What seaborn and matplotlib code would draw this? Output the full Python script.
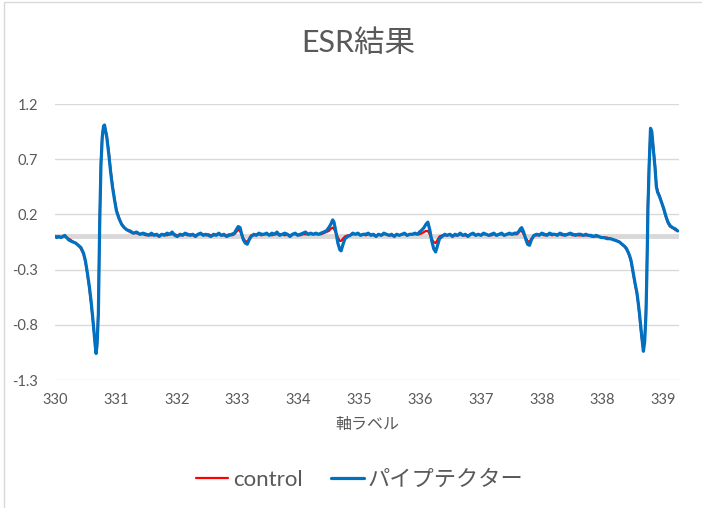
import numpy as np
import pandas as pd
import seaborn as sns
import matplotlib.pyplot as plt
from matplotlib.patches import Rectangle

# magnetic field and the two ESR traces
field = [330.00, 330.03, 330.06, 330.09, 330.12, 330.15, 330.18, 330.21, 330.24, 330.28, 330.32, 330.36,
         330.40, 330.44, 330.47, 330.50, 330.53, 330.56, 330.59, 330.62, 330.635, 330.65, 330.67, 330.69,
         330.71, 330.73, 330.75, 330.765, 330.78, 330.80, 330.83, 330.86, 330.89, 330.92, 330.95, 330.99,
         331.03, 331.07, 331.11, 331.16, 331.21, 331.26, 331.31, 331.36,
         331.41, 331.45, 331.49, 331.53, 331.57, 331.61, 331.65, 331.69, 331.73, 331.77, 331.81, 331.85,
         331.89, 331.93, 331.97, 332.01, 332.05, 332.09, 332.13, 332.17, 332.21, 332.25, 332.29, 332.33,
         332.37, 332.41, 332.45, 332.49, 332.53, 332.57, 332.61, 332.65, 332.69, 332.73,
         332.77, 332.80, 332.83, 332.86, 332.88, 332.91, 332.94, 332.97, 333.00, 333.03,
         333.07, 333.11, 333.15, 333.19, 333.23, 333.27, 333.31, 333.35, 333.39, 333.43, 333.47, 333.51,
         333.55, 333.59, 333.63, 333.67, 333.71, 333.75, 333.79, 333.83, 333.87, 333.91, 333.95, 333.99,
         334.03, 334.07, 334.11,
         334.15, 334.19, 334.23, 334.26, 334.29, 334.31, 334.34, 334.37, 334.40, 334.42, 334.45, 334.48, 334.52,
         334.56, 334.60, 334.64, 334.68, 334.72, 334.76, 334.80, 334.84, 334.88, 334.92, 334.96, 335.00,
         335.04, 335.08, 335.12, 335.16, 335.20, 335.24, 335.28, 335.32, 335.36, 335.40, 335.44, 335.48,
         335.52, 335.56, 335.60,
         335.63, 335.67, 335.70, 335.73, 335.76, 335.79, 335.82, 335.85, 335.88, 335.91, 335.94, 335.98,
         336.02, 336.06, 336.10, 336.14, 336.18, 336.22, 336.26, 336.30, 336.34, 336.38, 336.42, 336.46,
         336.50, 336.54, 336.58, 336.62, 336.66, 336.70, 336.74, 336.78, 336.82, 336.86, 336.90, 336.94,
         336.98, 337.02, 337.06, 337.10,
         337.14, 337.17, 337.19, 337.21, 337.24, 337.27, 337.30, 337.33, 337.36, 337.40,
         337.44, 337.48, 337.52, 337.56, 337.60, 337.64, 337.68, 337.72, 337.76, 337.80, 337.84, 337.88,
         337.92, 337.96, 338.00, 338.04, 338.08, 338.12, 338.16, 338.20, 338.24, 338.28, 338.32, 338.36,
         338.40, 338.44, 338.48,
         338.53, 338.58, 338.63, 338.68, 338.72, 338.76, 338.80, 338.83, 338.86, 338.88, 338.90, 338.93,
         338.96, 338.99, 339.01, 339.03, 339.06, 339.09, 339.11, 339.13, 339.145, 339.16, 339.18, 339.20,
         339.22, 339.24, 339.27, 339.29, 339.31, 339.34, 339.37, 339.40, 339.44, 339.47, 339.50, 339.54,
         339.58, 339.62]

pipe = [0.00, -0.01, 0.00, -0.01, 0.00, 0.01, -0.01, -0.03, -0.04, -0.05, -0.06, -0.08,
        -0.10, -0.15, -0.22, -0.33, -0.45, -0.60, -0.78, -0.98, -1.06, -0.98, -0.70, 0.10,
        0.65, 0.90, 1.00, 1.01, 0.96, 0.90, 0.75, 0.58, 0.44, 0.33, 0.23, 0.16,
        0.11, 0.08, 0.06, 0.05, 0.03, 0.04, 0.02, 0.03,
        0.02, 0.01, 0.03, 0.01, 0.02, 0.00, 0.02, 0.01, 0.03, 0.02, 0.04, 0.01,
        0.00, 0.02, 0.01, 0.03, 0.02, 0.01, 0.02, 0.00, 0.02, 0.03, 0.01, 0.02,
        0.01, 0.00, 0.02, 0.01, 0.03, 0.01, 0.02, 0.00, 0.01, 0.02,
        0.03, 0.06, 0.09, 0.08, 0.03, -0.03, -0.06, -0.07, -0.03, 0.00,
        0.02, 0.01, 0.03, 0.02, 0.02, 0.03, 0.01, 0.03, 0.02, 0.04, 0.01, 0.02,
        0.03, 0.02, 0.00, 0.02, 0.03, 0.01, 0.02, 0.03, 0.04, 0.02, 0.03, 0.02,
        0.03, 0.02, 0.03,
        0.04, 0.05, 0.08, 0.11, 0.15, 0.13, 0.04, -0.06, -0.12, -0.13, -0.07, -0.02, 0.00,
        0.01, 0.03, 0.02, 0.03, 0.01, 0.02, 0.02, 0.03, 0.01, 0.02, 0.00, 0.02,
        0.01, 0.03, 0.02, 0.01, 0.02, 0.00, 0.02, 0.01, 0.02, 0.03, 0.01, 0.02,
        0.02, 0.03, 0.02,
        0.04, 0.06, 0.08, 0.11, 0.13, 0.06, -0.04, -0.11, -0.14, -0.08, -0.02, 0.00,
        0.02, 0.01, 0.02, 0.00, 0.02, 0.01, 0.03, 0.01, 0.02, 0.00, 0.02, 0.03,
        0.01, 0.02, 0.01, 0.03, 0.02, 0.01, 0.02, 0.03, 0.01, 0.02, 0.03, 0.01,
        0.02, 0.03, 0.02, 0.03,
        0.03, 0.05, 0.07, 0.08, 0.04, -0.02, -0.07, -0.08, -0.03, 0.01,
        0.02, 0.01, 0.03, 0.02, 0.01, 0.03, 0.02, 0.02, 0.01, 0.03, 0.02, 0.01,
        0.02, 0.03, 0.02, 0.01, 0.02, 0.02, 0.01, 0.02, 0.01, 0.01, 0.00, 0.01,
        0.00, -0.01, -0.01,
        -0.02, -0.02, -0.03, -0.04, -0.05, -0.07, -0.09, -0.11, -0.15, -0.18, -0.22, -0.32,
        -0.42, -0.51, -0.60, -0.70, -0.88, -1.04, -0.95, -0.70, -0.30, 0.25, 0.66, 0.98,
        0.95, 0.81, 0.62, 0.45, 0.40, 0.36, 0.31, 0.26, 0.18, 0.13, 0.10, 0.08,
        0.07, 0.05]

control = [0.00, 0.00, 0.00, -0.01, 0.00, 0.00, -0.01, -0.02, -0.03, -0.05, -0.06, -0.08,
           -0.11, -0.16, -0.23, -0.34, -0.47, -0.62, -0.80, -0.97, -1.04, -0.96, -0.66, 0.14,
           0.68, 0.92, 1.00, 1.00, 0.97, 0.91, 0.77, 0.60, 0.46, 0.34, 0.24, 0.17,
           0.11, 0.08, 0.06, 0.04, 0.03, 0.03, 0.02, 0.02,
           0.01, 0.02, 0.01, 0.02, 0.01, 0.01, 0.02, 0.02, 0.01, 0.02, 0.02, 0.02,
           0.01, 0.01, 0.02, 0.02, 0.01, 0.02, 0.01, 0.01, 0.02, 0.02, 0.02, 0.01,
           0.02, 0.01, 0.01, 0.02, 0.02, 0.01, 0.01, 0.01, 0.02, 0.01,
           0.02, 0.04, 0.06, 0.05, 0.02, -0.02, -0.04, -0.05, -0.02, 0.01,
           0.01, 0.02, 0.02, 0.01, 0.02, 0.02, 0.02, 0.01, 0.02, 0.02, 0.02, 0.02,
           0.01, 0.02, 0.01, 0.02, 0.02, 0.02, 0.01, 0.02, 0.02, 0.02, 0.02, 0.02,
           0.02, 0.02, 0.02,
           0.03, 0.04, 0.05, 0.07, 0.08, 0.07, 0.03, -0.01, -0.04, -0.04, -0.02, 0.00, 0.01,
           0.01, 0.02, 0.02, 0.02, 0.01, 0.02, 0.01, 0.02, 0.02, 0.01, 0.01, 0.02,
           0.01, 0.02, 0.02, 0.01, 0.01, 0.01, 0.02, 0.01, 0.02, 0.02, 0.01, 0.02,
           0.02, 0.02, 0.02,
           0.02, 0.03, 0.04, 0.05, 0.05, 0.02, -0.02, -0.05, -0.06, -0.03, 0.00, 0.01,
           0.01, 0.01, 0.02, 0.01, 0.01, 0.01, 0.02, 0.01, 0.01, 0.01, 0.02, 0.02,
           0.01, 0.02, 0.01, 0.02, 0.02, 0.01, 0.01, 0.02, 0.01, 0.02, 0.02, 0.01,
           0.02, 0.02, 0.02, 0.02,
           0.02, 0.04, 0.05, 0.05, 0.02, -0.01, -0.04, -0.05, -0.02, 0.01,
           0.01, 0.02, 0.02, 0.01, 0.02, 0.02, 0.01, 0.02, 0.02, 0.02, 0.01, 0.02,
           0.02, 0.02, 0.01, 0.02, 0.01, 0.01, 0.01, 0.01, 0.01, 0.00, 0.00, 0.00,
           0.00, -0.01, -0.01,
           -0.01, -0.02, -0.03, -0.04, -0.05, -0.07, -0.09, -0.12, -0.15, -0.19, -0.23, -0.33,
           -0.43, -0.52, -0.61, -0.72, -0.90, -1.03, -0.93, -0.66, -0.22, 0.32, 0.70, 0.97,
           0.93, 0.83, 0.64, 0.47, 0.41, 0.37, 0.31, 0.25, 0.17, 0.12, 0.09, 0.08,
           0.06, 0.05]

x_tick_labels = ['330', '331', '332', '333', '334', '335', '336', '337', '338', '338', '339']
y_ticks = [-1.3, -0.8, -0.3, 0.2, 0.7, 1.2]

print(len(field), len(pipe), len(control))

df = pd.DataFrame({'field': field, 'control': control, 'パイプテクター': pipe})

sns.set_style('white')
plt.rcParams['font.family'] = ['Lato', 'Noto Sans CJK JP', 'DejaVu Sans']
text_grey = '#595959'

fig = plt.figure(figsize=(7.02, 5.08), dpi=100)
ax = fig.add_axes([55 / 702, 1 - 380 / 508, 624 / 702, 276 / 508])

# thick grey zero line (Excel horizontal axis)
ax.axhline(0, color='#d9d9d9', lw=3.5, zorder=1)

sns.lineplot(data=df, x='field', y='control', color='#ff0000', lw=1.6, ax=ax,
             label='control', sort=False, estimator=None, zorder=3)
sns.lineplot(data=df, x='field', y='パイプテクター', color='#0070c0', lw=2.3, ax=ax,
             label='パイプテクター', sort=False, estimator=None, zorder=4)

ax.set_xlim(330.0, 339.64)
ax.set_ylim(-1.3, 1.2)
ax.set_xticks(field[0] + 0.94 * np.arange(len(x_tick_labels)))
ax.set_xticklabels(x_tick_labels)
ax.set_yticks(y_ticks)
ax.set_yticklabels([f'{v:g}' for v in y_ticks])
ax.tick_params(axis='both', length=0, labelsize=10.5, labelcolor=text_grey)
ax.tick_params(axis='y', pad=12)
ax.tick_params(axis='x', pad=9)
ax.yaxis.grid(True, color='#d9d9d9', lw=1)
ax.xaxis.grid(False)
ax.set_xlabel('')
ax.set_ylabel('')
for s in ax.spines.values():
    s.set_visible(False)

fig.text(358 / 702, 1 - 43 / 508, 'ESR結果', ha='center', va='center', fontsize=22, color=text_grey)
fig.text(367 / 702, 1 - 425 / 508, '軸ラベル', ha='center', va='center', fontsize=11.5, color=text_grey)

handles, labels = ax.get_legend_handles_labels()
ax.get_legend().remove()
fig.legend(handles, labels, loc='center', bbox_to_anchor=(360 / 702, 1 - 480 / 508), ncol=2,
           frameon=False, fontsize=16, handlelength=1.45, handletextpad=0.2, columnspacing=1.3,
           labelcolor=text_grey)

# chart area border
fig.patches.append(Rectangle((4 / 702, -0.01), 1.0, 1 - 2 / 508 + 0.01, transform=fig.transFigure,
                             fill=False, edgecolor='#d9d9d9', lw=1))

fig.savefig('out.png', dpi=100)
